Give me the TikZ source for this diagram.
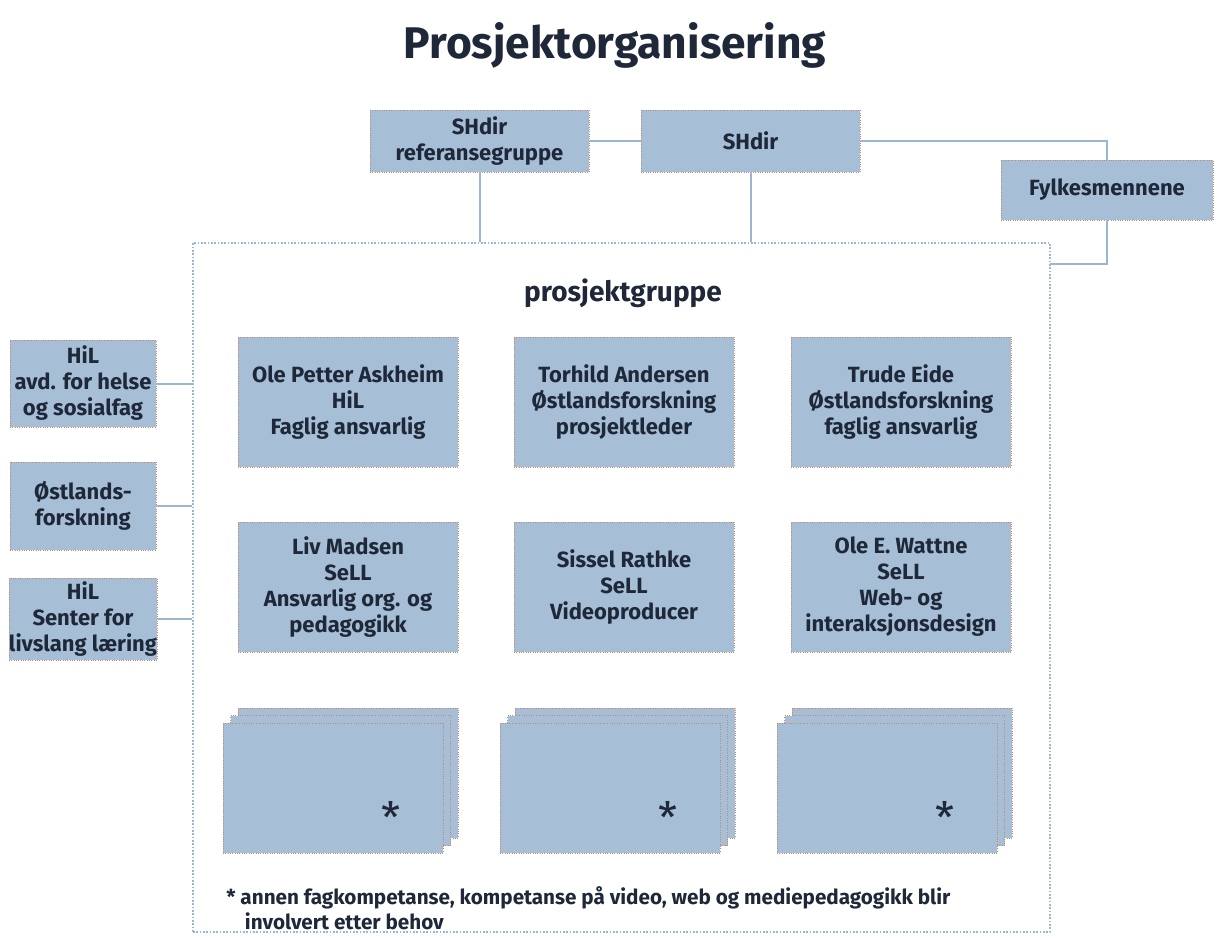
\documentclass[tikz,border=0pt]{standalone}
\usepackage{fontspec}
\setmainfont{Fira Sans}
\definecolor{boxfill}{HTML}{A6BFD7}
\definecolor{boxedge}{HTML}{C58A6A}
\definecolor{linkblue}{HTML}{9DB6CF}
\definecolor{textnavy}{HTML}{1E2838}
\tikzset{
  unit/.style={draw=boxedge, densely dotted, fill=boxfill, text=textnavy, align=center, inner sep=0pt,
    font=\bfseries\fontsize{13.2}{15.6}\selectfont},
  link/.style={draw=linkblue, line width=1.2pt},
}
\begin{document}
\begin{tikzpicture}[x=0.6pt,y=-0.6pt]
            \useasboundingbox (0,0) rectangle (1216,936);
            \node[text=textnavy,font=\bfseries\fontsize{26.6}{30}\selectfont] (title) at (615,45){Prosjektorganisering};

            % prosjektgruppe frame
            \node[draw=linkblue,line width=1.5pt,dash pattern=on 1pt off 1pt,minimum width=514.2pt,minimum height=413.4pt,inner sep=0pt] (pg) at (621.5,587.5){};
            \node[text=textnavy,font=\bfseries\fontsize{16.8}{20}\selectfont] (pglabel) at (623,293){prosjektgruppe};

            \node[unit,minimum width=131.4pt,minimum height=37.2pt] (refgrp) at (479.5,141){SHdir\\referansegruppe};
            \node[unit,minimum width=131.4pt,minimum height=37.2pt] (shdir) at (750.5,141){SHdir};
            \node[unit,minimum width=127.2pt,minimum height=36pt] (fylke) at (1107,190){Fylkesmennene};

            \node[unit,minimum width=87.6pt,minimum height=52.2pt] (hilhelse) at (83,383.5){HiL\\avd. for helse\\og sosialfag};
            \node[unit,minimum width=87.6pt,minimum height=52.8pt] (ostl) at (83,506){Østlands-\\forskning};
            \node[unit,minimum width=87.6pt,minimum height=49.2pt] (hilsell) at (83,619){HiL\\Senter for\\livslang læring};

            \node[unit,minimum width=132pt,minimum height=78pt] (askheim) at (348,402){Ole Petter Askheim\\HiL\\Faglig ansvarlig};
            \node[unit,minimum width=132pt,minimum height=78pt] (andersen) at (624,402){Torhild Andersen\\Østlandsforskning\\prosjektleder};
            \node[unit,minimum width=132pt,minimum height=78pt] (eide) at (901,402){Trude Eide\\Østlandsforskning\\faglig ansvarlig};
            \node[unit,minimum width=132pt,minimum height=78pt] (madsen) at (348,587){Liv Madsen\\SeLL\\Ansvarlig org. og\\pedagogikk};
            \node[unit,minimum width=132pt,minimum height=78pt] (rathke) at (624,587){Sissel Rathke\\SeLL\\Videoproducer};
            \node[unit,minimum width=132pt,minimum height=78pt] (wattne) at (901,587){Ole E. Wattne\\SeLL\\Web- og\\interaksjonsdesign};

            % stacked boxes for extra competence
            \foreach \name/\x in {stacka/333,stackb/610,stackc/887}{
              \node[unit,minimum width=132pt,minimum height=78pt] (\name3) at (\x+15,773){};
              \node[unit,minimum width=132pt,minimum height=78pt] (\name2) at (\x+7.5,780.5){};
              \node[unit,minimum width=132pt,minimum height=78pt] (\name1) at (\x,788){};
              \node[text=textnavy,font=\fontsize{26}{28}\selectfont] (\name star) at (\x+58,817){*};
            }
            \node[text=textnavy,anchor=north west,align=left,inner sep=0pt,font=\bfseries\fontsize{12.4}{15}\selectfont] (note) at (226,886)
              {* annen fagkompetanse, kompetanse på video, web og mediepedagogikk blir\\\hspace{0.9em}involvert etter behov};

            \coordinate (pgjoin) at (1050,264);
            \draw[link] (refgrp) -- (shdir);
            \draw[link] (refgrp.south) -- (refgrp.south |- pg.north);
            \draw[link] (shdir.south) -- (shdir.south |- pg.north);
            \draw[link] (shdir.east) -| (fylke.north);
            \draw[link] (fylke.south) |- (pgjoin);
            \draw[link] (hilhelse) -- (hilhelse -| pg.west);
            \draw[link] (ostl) -- (ostl -| pg.west);
            \draw[link] (hilsell) -- (hilsell -| pg.west);
        \end{tikzpicture}
\end{document}
